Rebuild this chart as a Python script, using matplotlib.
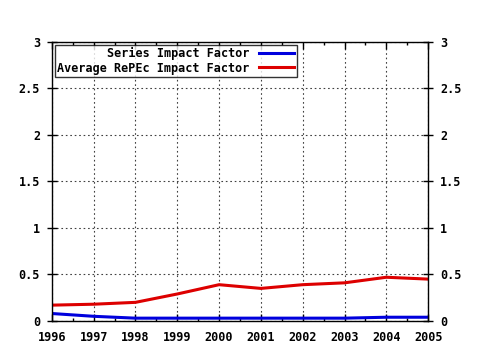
import matplotlib
matplotlib.use("Agg")
import matplotlib.pyplot as plt
from matplotlib.ticker import MultipleLocator

years = [1996, 1997, 1998, 1999, 2000, 2001, 2002, 2003, 2004, 2005]
series_if = [0.08, 0.05, 0.03, 0.03, 0.03, 0.03, 0.03, 0.03, 0.04, 0.04]
repec_if = [0.17, 0.18, 0.20, 0.29, 0.39, 0.35, 0.39, 0.41, 0.47, 0.45]
y_ticks = [0, 0.5, 1, 1.5, 2, 2.5, 3]
y_labels = ["0", "0.5", "1", "1.5", "2", "2.5", "3"]

plt.rcParams["font.family"] = "DejaVu Sans Mono"
plt.rcParams["font.weight"] = "bold"
plt.rcParams["font.size"] = 8.5

fig = plt.figure(figsize=(4.8, 3.5), dpi=100)
ax = fig.add_axes([0.108, 0.083, 0.784, 0.797])

ax.plot(years, series_if, color="#0000dd", linewidth=2.2, label="Series Impact Factor")
ax.plot(years, repec_if, color="#dd0000", linewidth=2.2, label="Average RePEc Impact Factor")

ax.set_xlim(1996, 2005)
ax.set_ylim(0, 3)
ax.xaxis.set_major_locator(MultipleLocator(1))
ax.xaxis.set_minor_locator(MultipleLocator(0.5))
ax.set_yticks(y_ticks)
ax.set_yticklabels(y_labels)

ax.tick_params(axis="x", which="both", direction="in", top=True, pad=7, width=1)
ax.tick_params(axis="x", which="major", length=5)
ax.tick_params(axis="x", which="minor", length=2.5)
ax.tick_params(axis="y", which="major", direction="inout", left=True, right=True,
               labelright=True, length=7, pad=5, width=1)
ax.grid(True, which="major", color="0.25", linestyle=(0, (1.5, 2.5)), linewidth=0.8)
for s in ax.spines.values():
    s.set_linewidth(1)

leg = ax.legend(loc="upper left", markerfirst=False, frameon=True, fancybox=False,
                edgecolor="black", borderpad=0.2, labelspacing=0.1,
                handlelength=3.0, borderaxespad=0.25)
leg.get_frame().set_linewidth(1)
for t in leg.get_texts():
    t.set_ha("right")

fig.savefig("out.png", dpi=100)
